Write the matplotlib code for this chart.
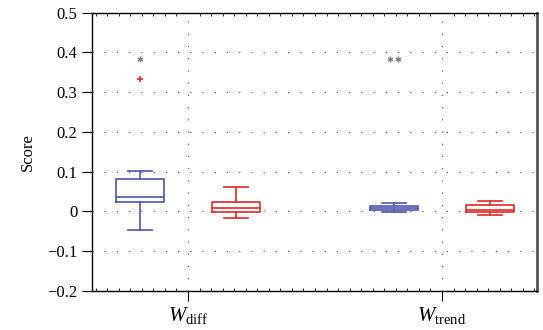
import numpy as np
import matplotlib
matplotlib.use('Agg')
import matplotlib.pyplot as plt
from matplotlib.ticker import MultipleLocator

plt.rcParams['font.family'] = 'Liberation Serif'
plt.rcParams['mathtext.fontset'] = 'custom'
plt.rcParams['mathtext.rm'] = 'Liberation Serif'
plt.rcParams['mathtext.it'] = 'Liberation Serif:italic'

groups = [r'$W_{\mathrm{diff}}$', r'$W_{\mathrm{trend}}$']

# blue series (left box of each group)
blue_q1 = [0.023, 0.003]
blue_med = [0.037, 0.0075]
blue_q3 = [0.0825, 0.0125]
blue_lo = [-0.0475, -0.001]
blue_hi = [0.1025, 0.021]
blue_fliers = [[0.332], []]

# red series (right box of each group)
red_q1 = [-0.002, -0.003]
red_med = [0.008, 0.004]
red_q3 = [0.024, 0.017]
red_lo = [-0.018, -0.009]
red_hi = [0.062, 0.026]
red_fliers = [[], []]

# significance marks above the blue boxes
sig_marks = [1, 2]       # number of asterisks
sig_y = [0.384, 0.384]

blue = '#4f55ad'
red = '#e02a2a'
off = 0.189
bw = 0.189

fig = plt.figure(figsize=(5.43, 3.30), dpi=100)
ax = fig.add_axes([0.1694, 0.119, 0.8196, 0.8425])

def stats(q1, med, q3, lo, hi, fl):
    return [dict(q1=q1[i], med=med[i], q3=q3[i], whislo=lo[i], whishi=hi[i], fliers=fl[i])
            for i in range(len(q1))]

x = np.arange(1, len(groups) + 1)
for st, pos, c in [(stats(blue_q1, blue_med, blue_q3, blue_lo, blue_hi, blue_fliers), x - off, blue),
                   (stats(red_q1, red_med, red_q3, red_lo, red_hi, red_fliers), x + off, red)]:
    ax.bxp(st, positions=pos, widths=bw, showfliers=True, manage_ticks=False,
           boxprops=dict(color=c, lw=1.2), medianprops=dict(color=c, lw=1.2),
           whiskerprops=dict(color=c, lw=1.2), capprops=dict(color=c, lw=1.2),
           capwidths=bw / 2,
           flierprops=dict(marker='+', markeredgecolor=red, markersize=4, mew=1.2))

for i, n in enumerate(sig_marks):
    xs = x[i] - off + (np.arange(n) - (n - 1) / 2) * 0.03
    ax.plot(xs, [sig_y[i]] * n, ls='none', marker=(6, 2, 0), color='#808080',
            markersize=4, mew=0.9)

ax.set_xlim(0.622, 2.374)
ax.set_ylim(-0.2, 0.5)
ax.set_xticks(x)
ax.set_xticklabels(groups, fontsize=15)
ax.set_yticks(np.arange(-0.2, 0.51, 0.1))
ax.set_yticklabels(['\u22120.2', '\u22120.1', '0', '0.1', '0.2', '0.3', '0.4', '0.5'], fontsize=12)
ax.set_ylabel('Score', fontsize=12, labelpad=8)
ax.xaxis.set_minor_locator(MultipleLocator(1 / 22))
ax.tick_params(axis='x', which='major', direction='out', length=7, top=False)
ax.tick_params(axis='x', which='minor', direction='in', length=2.5, top=True, bottom=True)
ax.tick_params(axis='y', which='major', direction='out', length=7, right=False)
ax.grid(True, which='major', color='#444444', linestyle=(0, (1, 10)), lw=0.8)
for s in ['left', 'top', 'bottom']:
    ax.spines[s].set_color('black')
    ax.spines[s].set_linewidth(1.0)
ax.spines['right'].set_color('#555555')
ax.spines['right'].set_linewidth(2.0)

fig.savefig('out.png', dpi=100)
